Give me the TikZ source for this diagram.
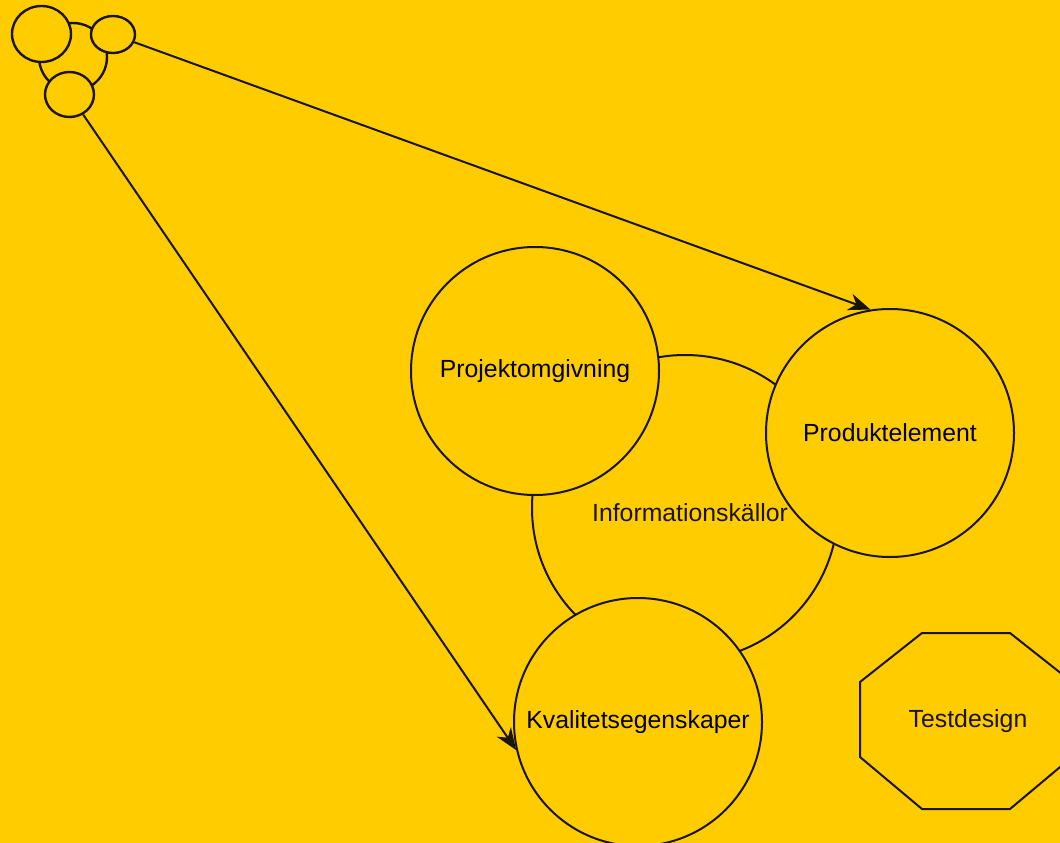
\documentclass[tikz,border=0pt]{standalone}
\usepackage{fontspec}
\setmainfont{Liberation Sans}
\usetikzlibrary{shapes.geometric,arrows.meta}
\definecolor{bgyellow}{HTML}{FFCC00}
\definecolor{inkc}{HTML}{1A1400}
\tikzset{
  bigcirc/.style={circle,draw=inkc,line width=2pt,fill=bgyellow,inner sep=0pt,minimum size=248pt,font=\fontsize{24.8}{30}\selectfont},
  smallell/.style={ellipse,draw=inkc,line width=2.4pt,fill=bgyellow,inner sep=0pt},
  conn/.style={draw=inkc,line width=2pt,-{Stealth[length=22pt,width=17pt,inset=7pt]}},
  lbl/.style={font=\fontsize{24.8}{30}\selectfont,text=inkc}
}
\begin{document}
\begin{tikzpicture}[x=1pt,y=-1pt]
\fill[bgyellow] (0,0) rectangle (1060,843);
\useasboundingbox (0,0) rectangle (1060,843);
% mini group
\draw[draw=inkc,line width=2.4pt] (73,57) circle[radius=34];
\node[smallell,minimum width=59pt,minimum height=56pt] (s1) at (41.5,34) {};
\node[smallell,minimum width=44pt,minimum height=37pt] (s2) at (113,34.5) {};
\node[smallell,minimum width=49pt,minimum height=45pt] (s3) at (69.5,94.5) {};
% main group
\node[circle,draw=inkc,line width=2pt,inner sep=0pt,minimum size=306pt] (info) at (685,508) {};
\node[lbl] (infolbl) at (690,513) {Informationskällor};
\node[bigcirc] (proj) at (535,371) {Projektomgivning};
\node[bigcirc] (prod) at (890,433) {Produktelement};
\node[bigcirc] (kval) at (638,722) {Kvalitetsegenskaper};
% octagon
\draw[draw=inkc,line width=2pt,fill=bgyellow] (922,633) -- (1010,633) -- (1072,682) -- (1072,757) -- (1010,809) -- (922,809) -- (860,757) -- (860,682) -- cycle;
\node[lbl] (test) at (968,721) {Testdesign};
% arrows
\draw[conn] (s2) -- (prod.99);
\draw[conn] (s3) -- (kval.193);
\end{tikzpicture}
\end{document}
